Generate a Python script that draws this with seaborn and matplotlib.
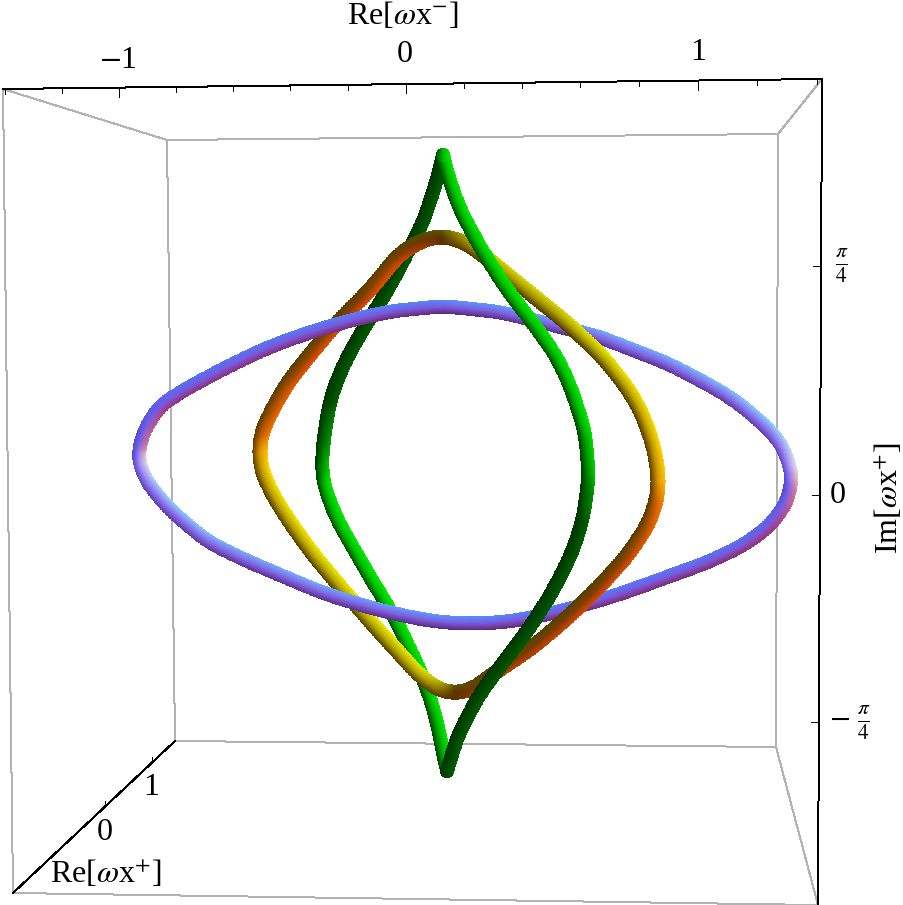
import numpy as np
import matplotlib
matplotlib.use("Agg")
import matplotlib.pyplot as plt
import seaborn as sns

# curve centre lines (pixels)
blue_x = [137, 145, 170, 208, 247, 285, 323, 361, 400, 438, 476, 514, 553, 591, 629, 667, 706, 744, 770, 787, 793, 785, 773, 747, 733, 700, 667, 633, 600, 533, 500, 443, 393, 360, 327, 293, 260, 227, 193, 160, 144]
blue_y = [455, 480, 510, 542, 561, 577, 593, 605, 615, 622, 624, 621, 613, 603, 591, 577, 563, 545, 526, 503, 477, 450, 433, 410, 399, 380, 363, 350, 337, 320, 312, 306, 311, 318, 327, 338, 351, 367, 385, 405, 430]

orange_right_x = [443, 465, 487, 526, 567, 603, 629, 642, 654, 659, 657, 648, 628, 599, 566, 533, 490, 473]
orange_right_y = [235, 242, 258, 290, 323, 357, 390, 413, 447, 480, 500, 525, 555, 587, 619, 647, 676, 690]
orange_left_x = [453, 438, 420, 378, 343, 312, 285, 267, 261, 259, 261, 272, 288, 308, 333, 370, 400, 422]
orange_left_y = [694, 690, 676, 630, 590, 553, 515, 484, 468, 453, 433, 410, 382, 357, 327, 290, 253, 240]

green_right_x = [443, 447, 460, 480, 507, 533, 557, 572, 578, 585, 589, 583, 572, 555, 535, 513, 480, 457, 447]
green_right_y = [155, 173, 210, 247, 290, 323, 357, 390, 410, 430, 477, 520, 553, 587, 620, 650, 693, 737, 771]
green_left_x = [447, 442, 435, 423, 396, 376, 356, 336, 322, 322, 328, 333, 347, 367, 388, 423, 437, 443]
green_left_y = [771, 747, 713, 677, 620, 587, 553, 518, 480, 453, 410, 390, 357, 323, 290, 223, 180, 155]

# box edges
gray_edges = [
    ([3, 13], [89, 893]), ([13, 818], [893, 905]), ([3, 167], [89, 140]),
    ([822, 778], [79, 134]), ([776, 818], [747, 905]), ([167, 778], [140, 134]),
    ([778, 776], [134, 747]), ([776, 175], [747, 741]), ([175, 167], [741, 140]),
]
top_axis_x = [3, 822]
top_axis_y = [89, 79]
right_axis_x = [822, 818]
right_axis_y = [79, 905]
left_axis_x = [13, 175]
left_axis_y = [893, 741]

# ticks
top_minor = [5, 62, 176, 233, 290, 348, 464, 522, 580, 639, 757, 817]
top_major = [119, 406, 698]
top_labels = ["$-$1", "0", "1"]
top_label_pos = [(118, 60), (405, 55), (698, 52)]
right_major = [266, 495, 722]
left_major = [(152, 763), (105, 807)]

# tube colours: for the way the tube faces (degrees,
# up is positive), colour on its far edge, middle and near edge
PHI = [-90, -45, -14, 0, 14, 45, 90]
GREEN = np.array([
    [(0, 51, 0), (0, 64, 0), (0, 77, 0)],
    [(0, 56, 0), (0, 69, 0), (0, 90, 0)],
    [(0, 51, 0), (0, 71, 0), (0, 97, 0)],
    [(0, 56, 0), (0, 140, 0), (0, 204, 0)],
    [(0, 69, 0), (0, 184, 0), (0, 235, 0)],
    [(0, 90, 0), (0, 199, 0), (0, 235, 0)],
    [(0, 77, 0), (0, 64, 0), (0, 51, 0)],
]) / 255
ORANGE = np.array([
    [(90, 90, 0), (90, 50, 0), (90, 50, 0)],
    [(80, 65, 0), (130, 60, 0), (220, 70, 0)],
    [(90, 55, 0), (195, 95, 0), (250, 125, 0)],
    [(100, 60, 0), (220, 150, 0), (255, 190, 0)],
    [(90, 60, 0), (200, 160, 0), (255, 220, 0)],
    [(80, 60, 0), (180, 170, 0), (235, 235, 0)],
    [(90, 50, 0), (90, 50, 0), (90, 90, 0)],
]) / 255
BLUE = np.array([
    [(85, 140, 255), (120, 90, 220), (90, 40, 120)],
    [(80, 100, 250), (125, 85, 215), (170, 50, 115)],
    [(70, 70, 230), (140, 100, 210), (215, 120, 140)],
    [(70, 70, 220), (170, 130, 235), (240, 190, 180)],
    [(90, 70, 210), (170, 150, 245), (225, 225, 230)],
    [(95, 60, 180), (140, 120, 240), (140, 210, 255)],
    [(90, 40, 120), (120, 90, 220), (85, 140, 255)],
]) / 255


def shade(phi, ts, table):
    parts = []
    for j in range(3):
        parts.append(np.dstack([np.interp(phi, PHI, table[:, j, c]) for c in range(3)]))
    low, mid, high = parts
    up = np.clip(ts, 0, 1)[:, :, None]
    down = np.clip(-ts, 0, 1)[:, :, None]
    return np.clip(mid + (high - mid) * up + (low - mid) * down, 0, 1)


def smooth(x, y, closed=False, sigma=10):
    p = np.column_stack([x, y]).astype(float)
    if closed:
        p = np.vstack([p, p[0]])
    s = np.r_[0, np.cumsum(np.linalg.norm(np.diff(p, axis=0), axis=1))]
    grid = np.arange(0, s[-1], 1.0)
    q = np.column_stack([np.interp(grid, s, p[:, 0]), np.interp(grid, s, p[:, 1])])
    if not closed:
        q = np.vstack([q, p[-1]])
    m = int(4 * sigma)
    kernel = np.exp(-0.5 * (np.arange(-m, m + 1) / sigma) ** 2)
    kernel /= kernel.sum()
    if closed:
        pad = np.vstack([q[-m:], q, q[:m]])
    else:
        pad = np.vstack([2 * q[0] - q[m:0:-1], q, 2 * q[-1] - q[-2:-m - 2:-1]])
    out = np.column_stack([np.convolve(pad[:, i], kernel, mode="valid") for i in (0, 1)])
    if closed:
        out = np.vstack([out, out[0]])
    return out


def tube(ax, pts, width, table, z):
    tang = np.gradient(pts, axis=0)
    tang /= np.maximum(np.linalg.norm(tang, axis=1, keepdims=True), 1e-6)
    normal = np.column_stack([-tang[:, 1], tang[:, 0]])
    off = np.linspace(-1, 1, 25)
    X = pts[:, 0][:, None] + normal[:, 0][:, None] * off * width / 2
    Y = pts[:, 1][:, None] + normal[:, 1][:, None] * off * width / 2
    mid = 0.5 * (off[:-1] + off[1:])
    nm = 0.5 * (normal[:-1] + normal[1:])
    flip = np.where(nm[:, 0] < 0, -1.0, 1.0)
    phi = np.degrees(np.arctan2(-nm[:, 1] * flip, nm[:, 0] * flip))[:, None] * np.ones_like(mid)
    ts = flip[:, None] * mid
    ax.pcolormesh(X, Y, shade(phi, ts, table), shading="flat", zorder=z, antialiased=False)


def cap(ax, cx, cy, width, table, phi, z):
    r = np.linspace(0, 1, 13)
    th = np.linspace(0, 2 * np.pi, 49)
    R, T = np.meshgrid(r, th, indexing="ij")
    X = cx + R * np.cos(T) * width / 2
    Y = cy - R * np.sin(T) * width / 2
    rm = 0.5 * (r[:-1] + r[1:])[:, None]
    tm = 0.5 * (th[:-1] + th[1:])[None, :]
    ts = rm * np.cos(tm)
    ax.pcolormesh(X, Y, shade(phi * np.ones_like(ts), ts, table), shading="flat", zorder=z, antialiased=False)


sns.set_theme(style="white")
plt.rcParams["font.family"] = ["Liberation Serif", "DejaVu Serif"]
plt.rcParams["mathtext.fontset"] = "stix"

fig = plt.figure(figsize=(9.04, 9.05), dpi=100)
ax = fig.add_axes([0, 0, 1, 1])

for ex, ey in gray_edges:
    sns.lineplot(x=ex, y=ey, color="#b2b2b2", lw=0.72, sort=False, estimator=None, ax=ax, zorder=1, antialiased=False)
for ex, ey in [(top_axis_x, top_axis_y), (right_axis_x, right_axis_y), (left_axis_x, left_axis_y)]:
    sns.lineplot(x=ex, y=ey, color="black", lw=0.72, sort=False, estimator=None, ax=ax, zorder=2, antialiased=False)


def top_y(x):
    return np.interp(x, top_axis_x, top_axis_y)


def right_x(y):
    return np.interp(y, right_axis_y, right_axis_x)


for x in top_minor:
    ax.plot([x, x], [top_y(x), top_y(x) + 5], color="black", lw=0.72, zorder=2, antialiased=False)
for x in top_major:
    ax.plot([x, x], [top_y(x), top_y(x) + 9], color="black", lw=0.72, zorder=2, antialiased=False)
for y in right_major:
    ax.plot([right_x(y) - 8, right_x(y)], [y, y], color="black", lw=0.72, zorder=2, antialiased=False)
for x, y in left_major:
    ax.plot([x, x], [y, y - 6], color="black", lw=0.72, zorder=2, antialiased=False)

# curves, back to front
tube(ax, smooth(green_left_x, green_left_y, sigma=12), 14, GREEN, 3)
orange_all = smooth(orange_right_x + orange_left_x, orange_right_y + orange_left_y, closed=True, sigma=10)
split = np.argmin(np.hypot(orange_all[:, 0] - orange_left_x[0], orange_all[:, 1] - orange_left_y[0]))
tube(ax, orange_all[split:], 15, ORANGE, 4)
tube(ax, smooth(blue_x, blue_y, closed=True), 14, BLUE, 5)
tube(ax, orange_all[:split + 1], 15, ORANGE, 6)
tube(ax, smooth(green_right_x, green_right_y, sigma=12), 14, GREEN, 7)
cap(ax, green_right_x[0], green_right_y[0], 14, GREEN, 14, 7)
cap(ax, green_right_x[-1], green_right_y[-1], 14, GREEN, -14, 7)

for s, (x, y) in zip(top_labels, top_label_pos):
    ax.text(x, y, s, ha="center", va="center", fontsize=23, color="black")
ax.text(403, 16, r"Re[$\omega$x$^{-}$]", ha="center", va="center", fontsize=23, color="black")
ax.text(151, 787, "1", ha="center", va="center", fontsize=23, color="black")
ax.text(105, 832, "0", ha="center", va="center", fontsize=23, color="black")
ax.text(106, 874, r"Re[$\omega$x$^{+}$]", ha="center", va="center", fontsize=23, color="black")
ax.text(842, 266, r"$\frac{\pi}{4}$", ha="center", va="center", fontsize=22, color="black")
ax.text(838, 495, "0", ha="center", va="center", fontsize=23, color="black")
ax.text(850, 723, r"$-\ \frac{\pi}{4}$", ha="center", va="center", fontsize=22, color="black")
ax.text(889, 498, r"Im[$\omega$x$^{+}$]", ha="center", va="center", rotation=90, fontsize=23, color="black")

ax.set_xlim(0, 904)
ax.set_ylim(905, 0)
ax.set_axis_off()
fig.savefig("out.png", dpi=100, facecolor="white")
plt.close(fig)
